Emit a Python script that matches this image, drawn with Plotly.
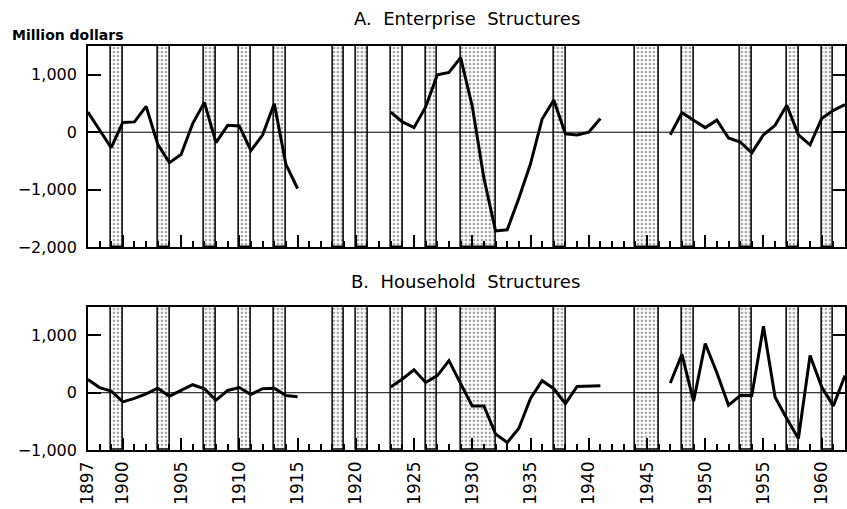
import plotly.graph_objects as go

# Annual change in inventories of structures, million dollars
years = list(range(1897, 1963))

enterprise = [
    350, 50, -270, 170, 180, 450, -210, -530, -390, 150,      # 1897-1906
    520, -180, 120, 110, -320, -50, 500, -560, -980,          # 1907-1915
    None, None, None, None, None, None, None,                 # 1916-1922
    350, 180, 80, 440, 1000, 1040, 1300, 450, -800, -1720,    # 1923-1932
    -1700, -1150, -550, 230, 560, -30, -50, 0, 240,           # 1933-1941
    None, None, None, None, None,                             # 1942-1946
    -45, 340, 210, 80, 210, -100, -170, -360, -45, 120,       # 1947-1956
    470, -45, -220, 240, 380, 480,                            # 1957-1962
]

household = [
    230, 90, 30, -160, -100, -20, 80, -60, 40, 140,           # 1897-1906
    70, -130, 40, 90, -30, 70, 80, -50, -70,                  # 1907-1915
    None, None, None, None, None, None, None,                 # 1916-1922
    100, 240, 400, 180, 300, 560, 160, -230, -230, -720,      # 1923-1932
    -870, -620, -100, 210, 70, -190, 110, 120, 120,           # 1933-1941
    None, None, None, None, None,                             # 1942-1946
    170, 670, -150, 860, 350, -220, -50, -50, 1160, -80,      # 1947-1956
    -450, -800, 650, 100, -230, 300,                          # 1957-1962
]

# Business contractions (annual peak year to trough year)
band_start = [1899, 1903, 1907, 1910, 1913, 1918, 1920, 1923, 1926, 1929,
              1937, 1944, 1948, 1953, 1957, 1960]
band_end = [1900, 1904, 1908, 1911, 1914, 1919, 1921, 1924, 1927, 1932,
            1938, 1946, 1949, 1954, 1958, 1961]

panel_titles = ["A.  Enterprise  Structures", "B.  Household  Structures"]
y_label = "Million dollars"

top_range = [-2000, 1500]
bottom_range = [-1000, 1500]
top_ticks = [-2000, -1000, 0, 1000]
bottom_ticks = [-1000, 0, 1000]
x_ticks = [1897] + list(range(1900, 1961, 5))

W, H = 847, 509
FONT = "DejaVu Sans"

fig = go.Figure()

band_x = [(s + e) / 2 for s, e in zip(band_start, band_end)]
band_w = [e - s for s, e in zip(band_start, band_end)]

for xa, ya, rng, series in [("x", "y", top_range, enterprise),
                            ("x2", "y2", bottom_range, household)]:
    fig.add_trace(go.Bar(
        x=band_x, width=band_w,
        base=[rng[0]] * len(band_x),
        y=[rng[1] - rng[0]] * len(band_x),
        xaxis=xa, yaxis=ya,
        marker=dict(
            color="white",
            line=dict(color="black", width=1.5),
            pattern=dict(shape=".", fgcolor="#444", bgcolor="white",
                         size=4, solidity=0.33),
        ),
        showlegend=False, hoverinfo="skip",
    ))
    fig.add_trace(go.Scatter(
        x=years, y=series, xaxis=xa, yaxis=ya,
        mode="lines", line=dict(color="black", width=3),
        connectgaps=False, showlegend=False,
    ))

x_dom = [79 / W, 1.0]
top_dom = [1 - 252 / H, 1 - 47 / H]
bot_dom = [1 - 459 / H, 1 - 313 / H]

xaxis_common = dict(
    range=[1897, 1962], domain=x_dom,
    showline=True, linecolor="black", linewidth=1.5, mirror=True,
    showgrid=False, zeroline=False,
    ticks="inside", ticklen=12, tickwidth=1.5, tickcolor="black",
    tickmode="array", tickvals=x_ticks,
    ticktext=[str(v) for v in x_ticks],
    minor=dict(ticks="inside", ticklen=6, tickwidth=1.5, tickcolor="black",
               tickmode="linear", tick0=1897, dtick=1, showgrid=False),
)
yaxis_common = dict(
    showline=True, linecolor="black", linewidth=1.5, mirror="ticks",
    showgrid=False, zeroline=False,
    ticks="inside", ticklen=13, tickwidth=1.5, tickcolor="black",
    tickformat=",", ticklabelstandoff=6,
    tickfont=dict(family=FONT, size=16, color="black"),
)

fig.update_layout(
    width=W, height=H, autosize=False,
    margin=dict(l=0, r=0, t=0, b=0),
    paper_bgcolor="white", plot_bgcolor="white",
    barmode="overlay", bargap=0,
    xaxis=dict(**xaxis_common, anchor="y", showticklabels=False),
    yaxis=dict(**yaxis_common, domain=top_dom, range=top_range,
               tickvals=top_ticks, anchor="x"),
    xaxis2=dict(**xaxis_common, anchor="y2", showticklabels=True,
                tickangle=-90, ticklabelstandoff=3,
                tickfont=dict(family=FONT, size=17, color="black")),
    yaxis2=dict(**yaxis_common, domain=bot_dom, range=bottom_range,
                tickvals=bottom_ticks, anchor="x2"),
    shapes=[
        dict(type="line", xref="x domain", yref="y", x0=0, x1=1, y0=0, y1=0,
             line=dict(color="black", width=1), layer="above"),
        dict(type="line", xref="x2 domain", yref="y2", x0=0, x1=1, y0=0, y1=0,
             line=dict(color="black", width=1), layer="above"),
    ],
    annotations=[
        dict(text=y_label, xref="paper", yref="paper", x=0, y=1 - 36 / H,
             xanchor="left", yanchor="middle", showarrow=False,
             font=dict(family=FONT, size=14, color="black", weight="bold")),
        dict(text=panel_titles[0], xref="paper", yref="paper",
             x=464 / W, y=1 - 19 / H, xanchor="center", yanchor="middle",
             showarrow=False, font=dict(family=FONT, size=18, color="black")),
        dict(text=panel_titles[1], xref="paper", yref="paper",
             x=462 / W, y=1 - 287 / H, xanchor="center", yanchor="middle",
             showarrow=False, font=dict(family=FONT, size=18, color="black")),
    ],
)

fig.write_html("out.html")
